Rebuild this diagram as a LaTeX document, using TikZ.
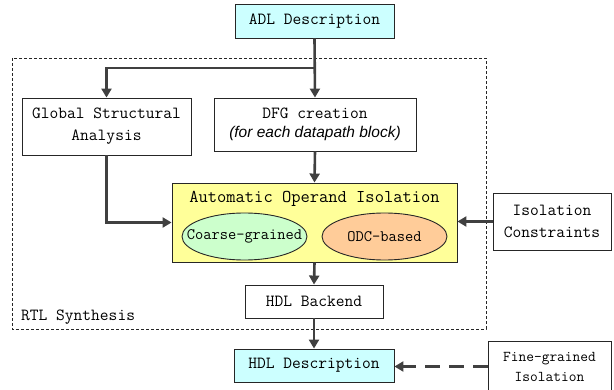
\documentclass[tikz,border=0pt]{standalone}
\usepackage{fontspec}
\setsansfont{Liberation Sans}
\usetikzlibrary{arrows.meta,shapes.geometric}
\definecolor{arrowgray}{HTML}{404040}
\definecolor{cyanfill}{HTML}{CCFFFF}
\definecolor{yellowfill}{HTML}{FFFF99}
\definecolor{greenfill}{HTML}{CCFFCC}
\definecolor{orangefill}{HTML}{FFCC99}
\tikzset{
  box/.style={draw=black!85, line width=0.9pt, fill=white, inner sep=0pt, align=center,
    font=\ttfamily\fontsize{17}{22}\selectfont},
  oval/.style={ellipse, draw=black!85, line width=0.9pt, inner sep=0pt},
  ovaltext/.style={font=\ttfamily\fontsize{16}{18}\selectfont, inner sep=0pt},
  flow/.style={draw=arrowgray, line width=2.6pt, -{Triangle[length=9pt,width=10pt]}},
  dflow/.style={draw=arrowgray, line width=3pt, dash pattern=on 15pt off 9pt, -{Triangle[length=9pt,width=10pt]}},
}
\begin{document}
\begin{tikzpicture}[x=1pt,y=-1pt]
\useasboundingbox (0,0) rectangle (614,390);
% RTL synthesis frame
\draw[black!85, line width=0.8pt, dash pattern=on 3pt off 2pt] (12,58) rectangle (486,329);
\node[anchor=west, font=\ttfamily\fontsize{17}{19}\selectfont, inner sep=0pt] (rtl) at (21,317) {RTL Synthesis};
% nodes
\node[box, fill=cyanfill, minimum width=159pt, minimum height=34pt] (adl) at (314.5,21) {ADL Description};
\node[box, minimum width=169pt, minimum height=57pt] (gsa) at (106.5,126.5) {Global Structural\\Analysis};
\node[box, minimum width=202pt, minimum height=53pt] (dfg) at (315,124.5) {DFG creation\\[-3pt]{\sffamily\itshape\fontsize{15.5}{18}\selectfont (for each datapath block)}};
\node[box, fill=yellowfill, minimum width=285pt, minimum height=79pt] (aoi) at (314.5,222.5) {};
\node[font=\ttfamily\fontsize{18}{20}\selectfont, inner sep=0pt] (aoititle) at (314.5,199) {Automatic Operand Isolation};
\node[oval, fill=greenfill, minimum width=125pt, minimum height=47pt] (coarse) at (244.5,236.5) {};
\node[ovaltext] (coarsetext) at (coarse.center) {Coarse-grained};
\node[oval, fill=orangefill, minimum width=125pt, minimum height=47pt] (odc) at (384.5,236.5) {};
\node[ovaltext] (odctext) at (odc.center) {ODC-based};
\node[box, minimum width=118pt, minimum height=57pt] (iso) at (552,221.5) {Isolation\\Constraints};
\node[box, minimum width=138pt, minimum height=33pt] (hdlb) at (314,301.5) {HDL Backend};
\node[box, fill=cyanfill, minimum width=160pt, minimum height=33pt] (hdld) at (314,365.5) {HDL Description};
\node[box, minimum width=123pt, minimum height=51pt, font=\ttfamily\fontsize{15}{20}\selectfont] (fine) at (549.5,366.5) {Fine-grained\\Isolation};
% connectors
\coordinate (br) at (314,68);
\draw[flow] (adl.south) -- (dfg.north);
\draw[flow] (br) -| (gsa.north);
\draw[flow] (dfg.south) -- (aoi.north);
\draw[flow] (gsa.south) |- (aoi.west);
\draw[flow] (iso.west) -- (iso.west -| aoi.east);
\draw[flow] (aoi.south) -- (hdlb.north);
\draw[flow] (hdlb.south) -- (hdld.north);
\draw[dflow] (fine.west) -- (fine.west -| hdld.east);
\end{tikzpicture}
\end{document}
